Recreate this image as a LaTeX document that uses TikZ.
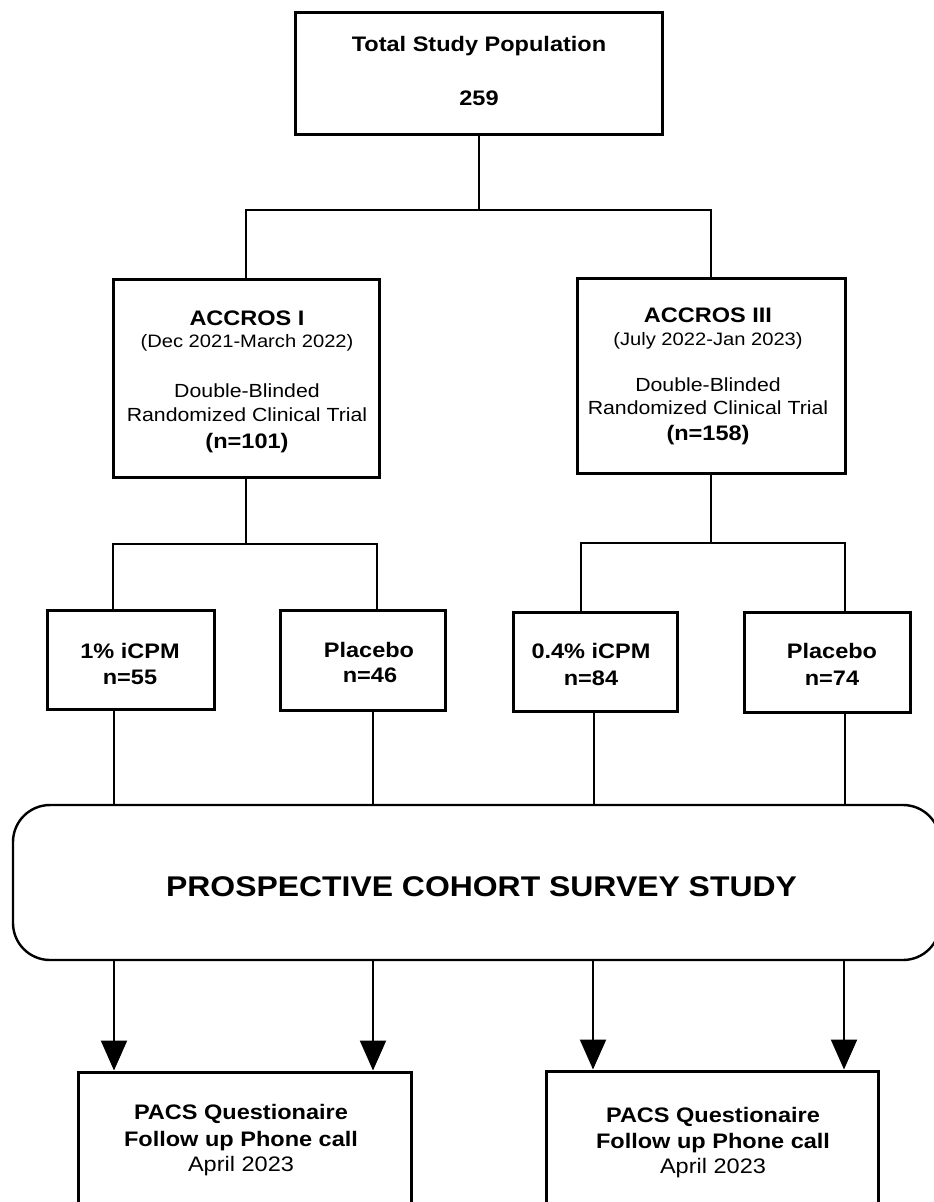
\documentclass[tikz,border=0pt]{standalone}
\usepackage{fontspec}
\setmainfont{Liberation Sans}
\newfontfamily\hv[FakeStretch=1.12]{Liberation Sans}
\usetikzlibrary{arrows.meta}
\tikzset{
  box/.style={draw, line width=3pt, inner sep=0pt, fill=white},
  roundbox/.style={draw, line width=2.4pt, inner sep=0pt, rounded corners=37pt},
  conn/.style={line width=2.8pt},
  thinconn/.style={line width=2.2pt},
  arr/.style={line width=2.2pt, -{Triangle[length=30pt,width=26pt]}},
  hb/.style={anchor=base, inner sep=0pt, font=\hv\bfseries\fontsize{21}{25}\selectfont},
  hr/.style={anchor=base, inner sep=0pt, font=\hv\fontsize{19}{23}\selectfont},
  hs/.style={anchor=base, inner sep=0pt, font=\hv\fontsize{18}{22}\selectfont},
  ha/.style={anchor=base, inner sep=0pt, font=\hv\fontsize{21}{25}\selectfont},
  hbig/.style={anchor=base, inner sep=0pt, font=\hv\bfseries\fontsize{28.5}{32}\selectfont}
}
\begin{document}
\begin{tikzpicture}[x=1pt,y=-1pt]
\useasboundingbox (0,0) rectangle (934,1202);
\fill[white] (0,0) rectangle (934,1202);
\clip (0,0) rectangle (934,1202);

% boxes
\node[box, minimum width=367pt, minimum height=122pt] (top) at (478.5,73) {};
\node[box, minimum width=266pt, minimum height=198pt] (acc1) at (246,378) {};
\node[box, minimum width=268pt, minimum height=195pt] (acc3) at (711,375.5) {};
\node[box, minimum width=167pt, minimum height=99pt] (s1) at (130.5,659.5) {};
\node[box, minimum width=165pt, minimum height=100pt] (s2) at (362.5,660) {};
\node[box, minimum width=164pt, minimum height=99pt] (s3) at (595,661.5) {};
\node[box, minimum width=166pt, minimum height=100pt] (s4) at (827,662) {};
\node[roundbox, minimum width=927pt, minimum height=155pt] (survey) at (476.5,882.5) {};
\node[box, minimum width=333pt, minimum height=143pt] (b1) at (244.5,1143.5) {};
\node[box, minimum width=332pt, minimum height=144pt] (b2) at (712,1143) {};

% junction coordinates
\coordinate (j0) at (479,210);
\coordinate (j1) at (246,544);
\coordinate (j1L) at (113,544);
\coordinate (j1R) at (377,544);
\coordinate (j3) at (711,543);
\coordinate (j3L) at (581,543);
\coordinate (j3R) at (845,543);

% top connectors
\draw[conn] (top.south -| j0) -- (j0);
\draw[conn] (acc1.north) -- (acc1.north |- j0) -- (acc3.north |- j0) -- (acc3.north);

% ACCROS I bracket
\draw[conn] (acc1.south) -- (j1);
\draw[conn] (j1L |- s1.north) -- (j1L) -- (j1R) -- (j1R |- s2.north);
% ACCROS III bracket
\draw[conn] (acc3.south) -- (j3);
\draw[conn] (j3L |- s3.north) -- (j3L) -- (j3R) -- (j3R |- s4.north);

% small boxes to survey
\coordinate (c1) at (114,0);
\coordinate (c2) at (373,0);
\coordinate (c3) at (594,0);
\coordinate (c4) at (845,0);
\draw[thinconn] (c1 |- s1.south) -- (c1 |- survey.north);
\draw[thinconn] (c2 |- s2.south) -- (c2 |- survey.north);
\draw[thinconn] (c3 |- s3.south) -- (c3 |- survey.north);
\draw[thinconn] (c4 |- s4.south) -- (c4 |- survey.north);

% arrows
\coordinate (a1) at (114,0);
\coordinate (a2) at (373,0);
\coordinate (a3) at (593,0);
\coordinate (a4) at (844,0);
\draw[arr] (a1 |- survey.south) -- (a1 |- b1.north);
\draw[arr] (a2 |- survey.south) -- (a2 |- b1.north);
\draw[arr] (a3 |- survey.south) -- (a3 |- b2.north);
\draw[arr] (a4 |- survey.south) -- (a4 |- b2.north);

% texts
\node[hb] (t1) at (479,51) {Total Study Population};
\node[hb] (t2) at (479,105) {259};

\node[hb] (a1t1) at (247,325) {ACCROS I};
\node[hs] (a1t2) at (247,347) {(Dec 2021-March 2022)};
\node[hr] (a1t3) at (247,397) {Double-Blinded};
\node[hr] (a1t4) at (247,421) {Randomized Clinical Trial};
\node[hb] (a1t5) at (247,448) {(n=101)};

\node[hb] (a3t1) at (708,322) {ACCROS III};
\node[hs] (a3t2) at (708,345) {(July 2022-Jan 2023)};
\node[hr] (a3t3) at (708,391) {Double-Blinded};
\node[hr] (a3t4) at (708,414) {Randomized Clinical Trial};
\node[hb] (a3t5) at (708,440) {(n=158)};

\node[hb] (s1a) at (130,658) {1\% iCPM};
\node[hb] (s1b) at (130,684) {n=55};
\node[hb] (s2a) at (369,657) {Placebo};
\node[hb] (s2b) at (370,682) {n=46};
\node[hb] (s3a) at (591,658) {0.4\% iCPM};
\node[hb] (s3b) at (591,685) {n=84};
\node[hb] (s4a) at (832,658) {Placebo};
\node[hb] (s4b) at (832,685) {n=74};

\node[hbig] (st) at (481.5,896) {PROSPECTIVE COHORT SURVEY STUDY};

\node[hb] (b1a) at (241,1119) {PACS Questionaire};
\node[hb] (b1b) at (241,1146) {Follow up Phone call};
\node[ha] (b1c) at (241,1171) {April 2023};
\node[hb] (b2a) at (713,1122) {PACS Questionaire};
\node[hb] (b2b) at (713,1148) {Follow up Phone call};
\node[ha] (b2c) at (713,1173) {April 2023};
\end{tikzpicture}
\end{document}
